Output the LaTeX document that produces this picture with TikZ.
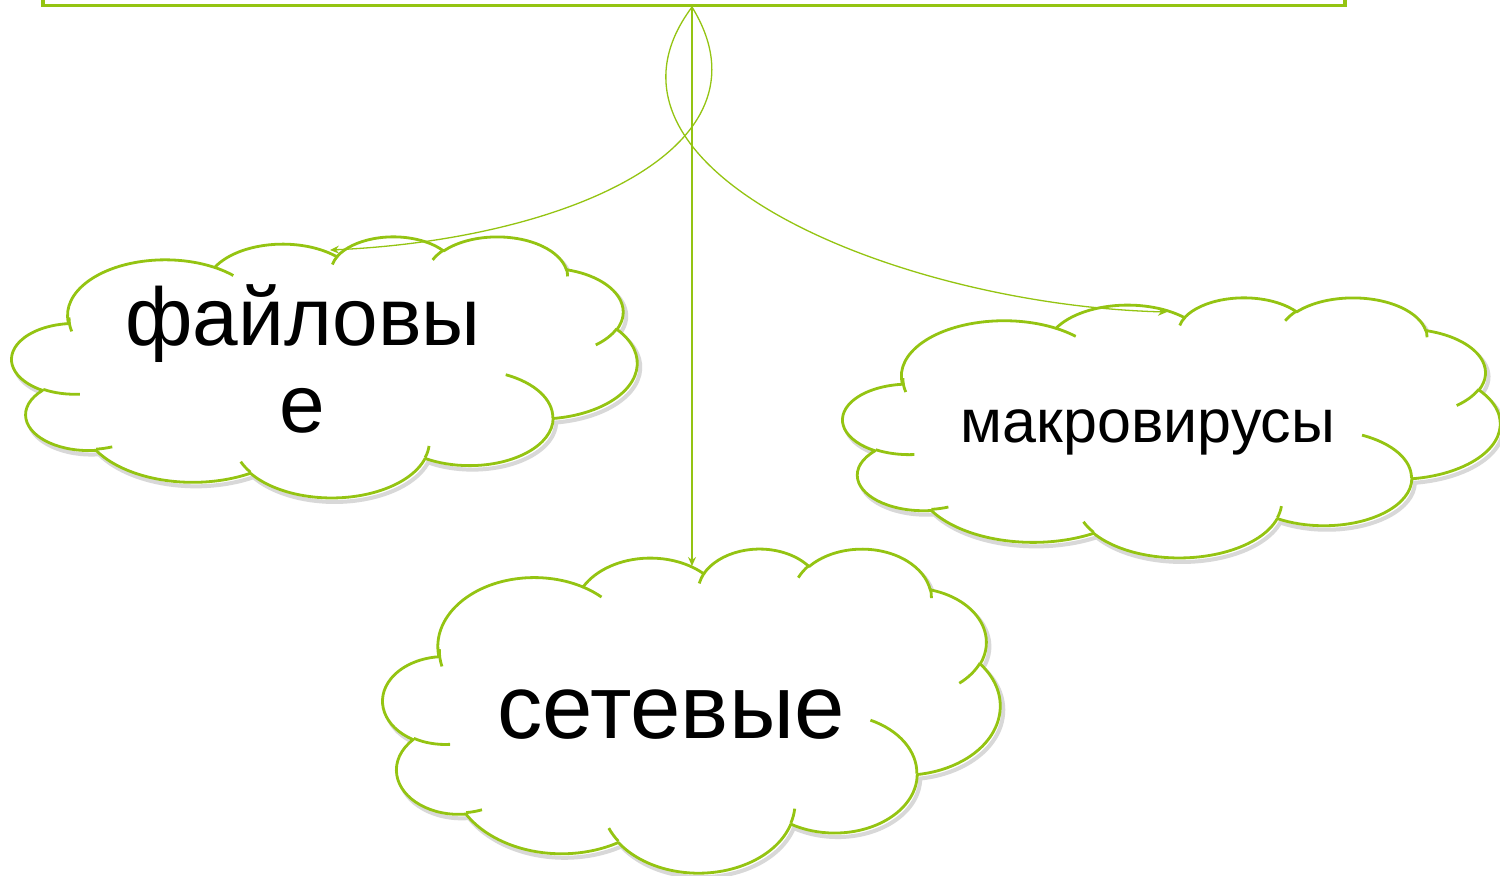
\documentclass[tikz,border=0pt]{standalone}
\usepackage{fontspec}
\setmainfont{Liberation Sans}
\usetikzlibrary{arrows.meta}
\definecolor{grn}{RGB}{148,196,18}
\newcommand\ca[4]{arc[x radius=#1pt, y radius=#2pt, start angle={atan2(#1*sin(#3),#2*cos(#3))}, delta angle={atan2(#1*sin(#3+#4),#2*cos(#3+#4))-atan2(#1*sin(#3),#2*cos(#3))+360*round((#4-(atan2(#1*sin(#3+#4),#2*cos(#3+#4))-atan2(#1*sin(#3),#2*cos(#3))))/360)}]}
\def\cloudpath{(39pt,143.7pt) \ca{67.53}{91.90}{-190.48748}{123.78053} \ca{53.33}{72.67}{-144.10238}{89.94523} \ca{43.65}{59.45}{-145.80792}{99.72302} \ca{48.57}{65.95}{-130.98607}{117.24173} \ca{53.33}{72.73}{-78.70888}{109.02692} \ca{67.75}{92.20}{-46.26725}{130.269} \ca{57.85}{78.67}{0.62502}{114.03333} \ca{67.52}{92.15}{22.4516}{115.17255} \ca{77.20}{105.43}{66.24263}{75.71102} \ca{43.60}{59.18}{-274.94208}{146.73557} \ca{43.45}{59.45}{-246.8285}{152.51885} -- cycle}
\def\cloudtails{(46.93pt,261.77pt) \ca{43.45}{59.45}{86.742}{26.4295} (69.28pt,348.99pt) \ca{43.60}{59.18}{73.61047}{11.44747} (164.78pt,390.90pt) \ca{67.52}{92.15}{137.62415}{14.0811} (288.27pt,347.51pt) \ca{67.52}{92.15}{6.45327}{15.99835} (341.29pt,229.54pt) \ca{57.85}{78.67}{-70.29235}{70.91737} (417.98pt,153.54pt) \ca{53.33}{72.73}{30.31803}{27.7515} (383.24pt,54.26pt) \ca{48.57}{65.95}{-13.74433}{14.8589} (290.78pt,39.52pt) \ca{48.57}{65.95}{-149.18145}{18.19537} (221.41pt,47.20pt) \ca{43.65}{59.45}{-163.49427}{17.68635} (140.00pt,51.92pt) \ca{67.53}{91.90}{-66.70695}{12.31935} (41.27pt,157.89pt) \ca{67.53}{91.90}{162.0468}{19.42595}}
\newcommand\mycloud[4]{%
  \begin{scope}[shift={(#1+3,#2+4)}, xscale={#3/864}, yscale={-#4/864}]
    \draw[cloudshadow] \cloudpath;
  \end{scope}
  \begin{scope}[shift={(#1,#2)}, xscale={#3/864}, yscale={-#4/864}]
    \filldraw[cloudline, fill=white] \cloudpath;
    \draw[cloudline] \cloudtails;
  \end{scope}}
\tikzset{
  cloudline/.style={draw=grn, line width=1.4pt, line join=round},
  cloudshadow/.style={draw=black!28, line width=2pt, opacity=0.55},
  conn/.style={draw=grn, line width=0.65pt, -{Stealth[length=4.5pt, width=4pt, inset=1.5pt]}},
  lbl/.style={anchor=base, inner sep=0pt, text=black}
}
\begin{document}
\begin{tikzpicture}[x=0.5pt, y=-0.5pt]
\path[use as bounding box, fill=white] (0,0) rectangle (1500,875);
\node[draw=grn, fill=white, line width=1.65pt, minimum width=651pt, minimum height=20pt, inner sep=0pt, anchor=south] (top) at (694,7) {};
\mycloud{12}{236}{625}{261}
\mycloud{843}{297}{657}{260}
\mycloud{383}{548}{617}{324}
\node[lbl, font=\fontsize{41}{50}\selectfont] (t1) at (303,345) {файловы};
\node[lbl, font=\fontsize{41}{50}\selectfont] (t2) at (302,432) {е};
\node[lbl, font=\fontsize{30.5}{36}\selectfont] (t3) at (1148,442) {макровирусы};
\node[lbl, font=\fontsize{45.3}{54}\selectfont] (t4) at (671,738) {сетевые};
\coordinate (src) at (692,7);
\coordinate (lend) at (330,250);
\coordinate (rend) at (1167,312);
\coordinate (mend) at (692,566);
\draw[conn] (src) .. controls (780,150) and (560,240) .. (lend);
\draw[conn] (src) .. controls (570,170) and (900,305) .. (rend);
\draw[conn] (src) -- (mend);
\end{tikzpicture}
\end{document}
